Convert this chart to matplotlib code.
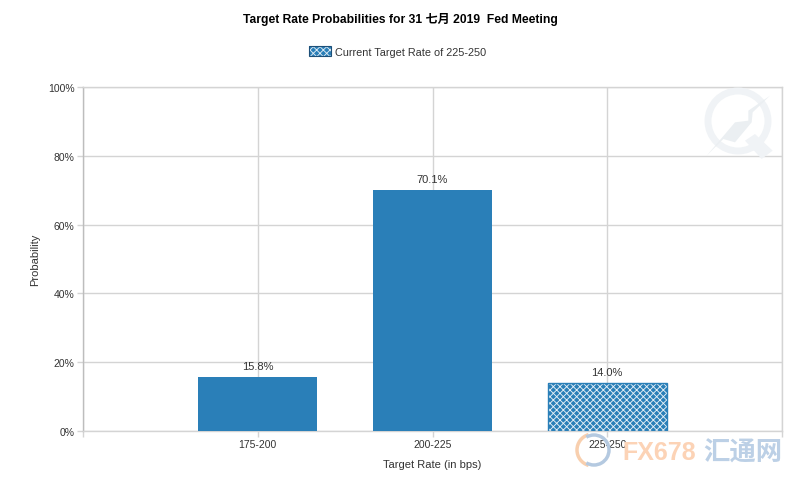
import matplotlib
matplotlib.use('Agg')
import matplotlib.pyplot as plt
from matplotlib.patches import Rectangle, Polygon, Ellipse, Arc

plt.rcParams['font.family'] = ['Liberation Sans', 'Noto Sans CJK SC', 'DejaVu Sans']
plt.rcParams['hatch.linewidth'] = 0.65

categories = ['175-200', '200-225', '225-250']
probabilities = [15.8, 70.1, 14.0]
value_labels = ['15.8%', '70.1%', '14.0%']
current_flags = [False, False, True]
y_ticks = [0, 20, 40, 60, 80, 100]
title = 'Target Rate Probabilities for 31 七月 2019  Fed Meeting'
legend_label = 'Current Target Rate of 225-250'
x_label = 'Target Rate (in bps)'
y_label = 'Probability'

BLUE = '#2a7fb8'
GRID = '#d4d4d4'
TXT = '#333333'
W, H = 800, 489

fig = plt.figure(figsize=(8.0, 4.89), dpi=100, facecolor='white')
ax = fig.add_axes([83 / W, 1 - 432 / H, (782 - 83) / W, (432 - 88) / H])

positions = list(range(1, len(categories) + 1))
ax.set_xlim(0, len(categories) + 1)
ax.set_ylim(0, 100)

for p, v, cur in zip(positions, probabilities, current_flags):
    if cur:
        ax.bar(p, v, width=0.68, facecolor=BLUE, edgecolor='#e4eff6', hatch='xxxxx', linewidth=0, zorder=3)
        ax.bar(p, v, width=0.68, facecolor='none', edgecolor=BLUE, linewidth=1, zorder=3.1)
    else:
        ax.bar(p, v, width=0.68, color=BLUE, linewidth=0, zorder=3)

for p, v, s in zip(positions, probabilities, value_labels):
    ax.annotate(s, (p, v), xytext=(0, 4), textcoords='offset points', ha='center', va='bottom',
                fontsize=8, color=TXT, zorder=4)

ax.set_xticks(range(0, len(categories) + 2))
ax.set_xticklabels([''] + categories + [''], fontsize=7.5, color=TXT, zorder=8)
ax.set_yticks(y_ticks)
ax.set_yticklabels([f'{t}%' for t in y_ticks], fontsize=7.5, color=TXT)
ax.grid(True, color=GRID, linewidth=1, zorder=0)
ax.set_axisbelow(True)
ax.tick_params(axis='both', length=4, width=1, color=GRID, pad=2)
for sp in ax.spines.values():
    sp.set_color(GRID)
    sp.set_linewidth(1)
ax.spines['left'].set_color('#bdbdbd')
ax.set_xlabel(x_label, fontsize=8, color=TXT, labelpad=7)
ax.set_ylabel(y_label, fontsize=8, color=TXT, labelpad=6)

fig.text(400 / W, 1 - 20 / H, title, ha='center', va='center', fontsize=8.7, fontweight='bold', color='black')

# legend
tf = fig.transFigure
fig.patches.append(Rectangle((309 / W, 1 - 57 / H), 22 / W, 10 / H, transform=tf,
                             facecolor=BLUE, edgecolor='#dbe9f3', hatch='xxxxx', linewidth=0, zorder=2))
fig.patches.append(Rectangle((309 / W, 1 - 57 / H), 22 / W, 10 / H, transform=tf,
                             facecolor='none', edgecolor='#1d4f78', linewidth=0.8, zorder=2.1))
fig.text(335 / W, 1 - 52.5 / H, legend_label, ha='left', va='center', fontsize=7.8, color=TXT)

# watermark Q logo, coordinates in pixels
def fx(x): return x / W
def fy(y): return 1 - y / H
def zp(pts): return [(fx(680 + a / 3), fy(80 + b / 3)) for a, b in pts]
wm = '#f0f3f6'
fig.patches.append(Ellipse((fx(738), fy(122)), 60 / W, 60 / H, transform=tf, facecolor='none',
                           edgecolor=wm, linewidth=5, zorder=5))
fig.patches.append(Polygon(zp([(195, 185), (225, 165), (278, 215), (245, 240)]),
                           closed=True, transform=tf, facecolor=wm, edgecolor='none', zorder=5))
fig.patches.append(Polygon(zp([(270, 50), (205, 95), (205, 125), (165, 130), (80, 230), (130, 180),
                               (165, 190), (215, 130), (218, 100)]),
                           closed=True, transform=tf, facecolor='#ebeff2', edgecolor='none', zorder=6))

# site watermark
fig.patches.append(Arc((fx(593), fy(451)), 32 / W, 32 / H, angle=0, theta1=100, theta2=260, transform=tf,
                       edgecolor='#f8cfae', linewidth=2.5, zorder=5))
fig.patches.append(Arc((fx(594), fy(451)), 30 / W, 30 / H, angle=0, theta1=250, theta2=110, transform=tf,
                       edgecolor='#b4c9e0', linewidth=2.5, zorder=5))
fig.text(622 / W, 1 - 453 / H, 'FX678', ha='left', va='center', fontsize=18, fontweight='bold',
         color='#fcd3b6', zorder=1)
fig.text(703 / W, 1 - 453 / H, '汇通网', ha='left', va='center', fontsize=19, fontweight='bold',
         color='#bcd0e6', zorder=1)

fig.savefig('out.png', dpi=100, facecolor='white')
